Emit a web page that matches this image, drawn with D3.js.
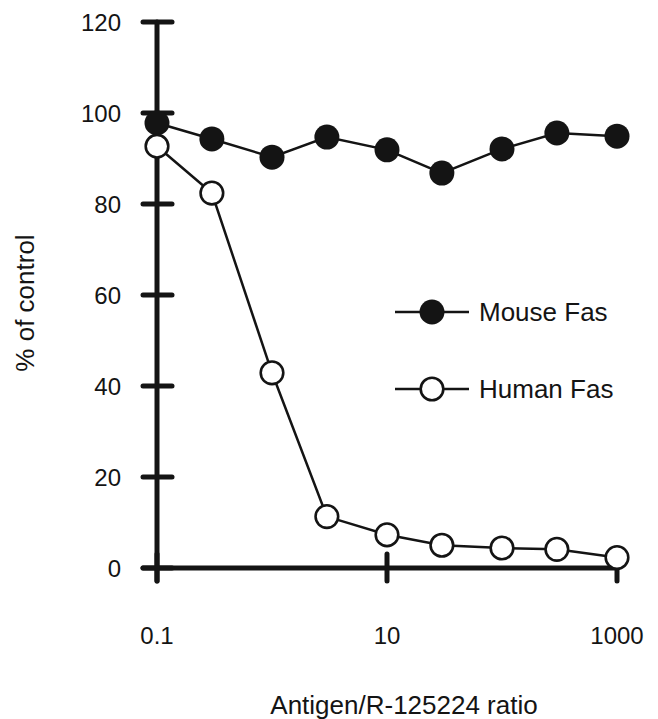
<!DOCTYPE html>
<html><head><meta charset="utf-8">
<script src="https://cdn.jsdelivr.net/npm/d3@7"></script>
<style>body{margin:0;background:#fff}svg{display:block;font-family:"Liberation Sans",Arial,sans-serif}</style>
</head><body>
<svg id="c" width="658" height="719"></svg>
<script>
const ratios = [0.1, 0.3, 1, 3, 10, 30, 100, 300, 1000];
const mouseFas = [97.8, 94.3, 90.3, 94.7, 91.9, 86.8, 92.1, 95.6, 94.9];
const humanFas = [92.7, 82.4, 42.9, 11.3, 7.3, 5.0, 4.4, 4.1, 2.3];
const xTicks = [0.1, 10, 1000];
const xTickLabels = ["0.1", "10", "1000"];
const yTicks = [0, 20, 40, 60, 80, 100, 120];
const seriesNames = ["Mouse Fas", "Human Fas"];

const ink = "#141414";
const svg = d3.select("#c");
const x = d3.scaleLog().domain([0.1, 1000]).range([157, 617]);
const y = d3.scaleLinear().domain([0, 120]).range([568, 22]);

// axes lines
const ax = svg.append("g").attr("stroke", ink).attr("stroke-width", 5).attr("stroke-linecap", "round");
ax.append("line").attr("x1", x(0.1)).attr("x2", x(0.1)).attr("y1", y(120)).attr("y2", y(0) + 13);
ax.append("line").attr("x1", x(0.1) - 14).attr("x2", x(1000)).attr("y1", y(0)).attr("y2", y(0));
yTicks.forEach(v => ax.append("line").attr("x1", x(0.1) - 14).attr("x2", x(0.1) + 15).attr("y1", y(v)).attr("y2", y(v)));
xTicks.forEach(v => ax.append("line").attr("x1", x(v)).attr("x2", x(v)).attr("y1", y(0) - 14).attr("y2", y(0) + 13));

// tick labels
svg.append("g").selectAll("text").data(yTicks).join("text")
  .attr("x", 121).attr("y", d => y(d)).attr("dy", "0.36em")
  .attr("text-anchor", "end").attr("font-size", 24).attr("fill", ink).text(d => d);
svg.append("g").selectAll("text").data(xTicks).join("text")
  .attr("x", d => x(d)).attr("y", 644)
  .attr("text-anchor", "middle").attr("font-size", 24).attr("fill", ink).text((d, i) => xTickLabels[i]);

// axis titles
svg.append("text").attr("x", 404).attr("y", 714).attr("text-anchor", "middle")
  .attr("font-size", 26).attr("fill", ink).text("Antigen/R-125224 ratio");
svg.append("text").attr("transform", "translate(34,303) rotate(-90)").attr("text-anchor", "middle")
  .attr("font-size", 26).attr("fill", ink).text("% of control");

const line = d3.line().x(d => x(d[0])).y(d => y(d[1]));
function drawSeries(vals, filled) {
  const pts = ratios.map((r, i) => [r, vals[i]]);
  svg.append("path").datum(pts).attr("d", line).attr("fill", "none").attr("stroke", ink).attr("stroke-width", 2.5);
  svg.append("g").selectAll("circle").data(pts).join("circle")
    .attr("cx", d => x(d[0])).attr("cy", d => y(d[1]))
    .attr("r", filled ? 12.5 : 11.3)
    .attr("fill", filled ? ink : "#fff")
    .attr("stroke", ink).attr("stroke-width", filled ? 0 : 2.6);
}
drawSeries(mouseFas, true);
drawSeries(humanFas, false);

// legend
const leg = [[seriesNames[0], true, 312], [seriesNames[1], false, 389]];
leg.forEach(([name, filled, ly]) => {
  svg.append("line").attr("x1", 395).attr("x2", 469).attr("y1", ly).attr("y2", ly).attr("stroke", ink).attr("stroke-width", 2.5);
  svg.append("circle").attr("cx", 432).attr("cy", ly).attr("r", filled ? 12.5 : 11.3)
    .attr("fill", filled ? ink : "#fff").attr("stroke", ink).attr("stroke-width", filled ? 0 : 2.6);
  svg.append("text").attr("x", 479).attr("y", ly).attr("dy", "0.36em").attr("font-size", 26).attr("fill", ink).text(name);
});
</script>
</body></html>
